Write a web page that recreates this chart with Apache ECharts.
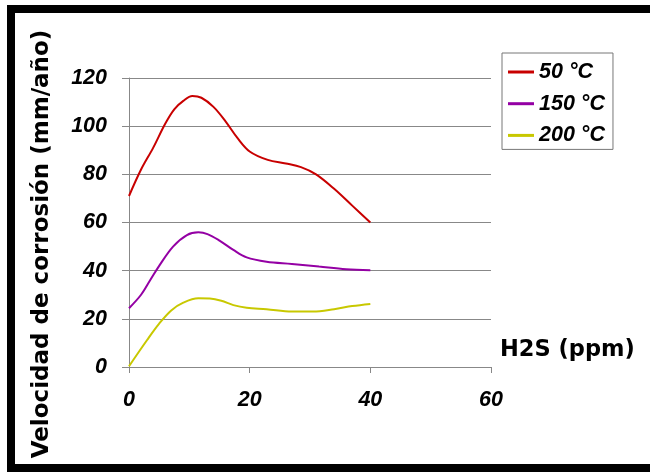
<!DOCTYPE html>
<html>
<head>
<meta charset="utf-8">
<script src="https://cdn.jsdelivr.net/npm/echarts@6/dist/echarts.min.js"></script>
<style>html,body{margin:0;padding:0;background:#fff;}#c{width:650px;height:472px;}</style>
</head>
<body>
<div id="c"></div>
<script>
const seriesNames = ['50 °C', '150 °C', '200 °C'];
const xTicks = [0, 20, 40, 60];
const yTicks = [0, 20, 40, 60, 80, 100, 120];
const xAxisTitle = 'H2S (ppm)';
const yAxisTitle = 'Velocidad de corrosión (mm/año)';

const s50 = [[0,71],[2,82],[4,91],[6,101],[7.5,107],[9,110.5],[10.5,112.5],[12,111.8],[14,108],[16,102],[18,95],[20,89.5],[23,86],[26,84.5],[28.5,83],[31,80],[34,74],[37,67],[40,60]];
const s150 = [[0,24.4],[2,30],[3.5,36],[5,42],[7.3,50],[9.6,54.8],[11.5,55.9],[13,55.2],[15,52.5],[17.3,48.6],[19.5,45.5],[22.8,43.7],[27,42.8],[31.5,41.7],[36,40.6],[40,40.2]];
const s200 = [[0,0.3],[3,11.2],[5,18],[7,23.5],[9,26.7],[11.5,28.5],[13.4,28.4],[15.3,27.5],[17.3,25.7],[19.5,24.6],[22.8,24],[27,23],[30.5,23],[34,24],[37,25.3],[40,26.2]];

const colors = ['#c80000', '#9400a4', '#c8c800'];
const tickFont = {fontFamily: 'Liberation Sans', fontWeight: 'bold', fontStyle: 'italic', fontSize: 21.5, color: '#000'};

const chart = echarts.init(document.getElementById('c'), null, {renderer: 'canvas'});
const mk = (name, data, i) => ({
  name, type: 'line', data, smooth: 0.35, symbol: 'none',
  lineStyle: {color: colors[i], width: 2}, itemStyle: {color: colors[i]}
});
chart.setOption({
  backgroundColor: '#fff',
  animation: false,
  grid: {left: 129, right: 159, top: 78, bottom: 105, containLabel: false},
  xAxis: {
    type: 'value', min: xTicks[0], max: xTicks[xTicks.length - 1], interval: 20,
    axisLine: {show: true, lineStyle: {color: '#888', width: 1}},
    axisTick: {show: true, length: 6, lineStyle: {color: '#888'}},
    axisLabel: Object.assign({margin: 22}, tickFont),
    splitLine: {show: false}
  },
  yAxis: {
    type: 'value', min: yTicks[0], max: yTicks[yTicks.length - 1], interval: 20,
    axisLine: {show: true, lineStyle: {color: '#888', width: 1}},
    axisTick: {show: true, length: 7, lineStyle: {color: '#888'}},
    axisLabel: Object.assign({margin: 22}, tickFont),
    splitLine: {show: true, lineStyle: {color: '#888', width: 1}}
  },
  legend: {
    orient: 'vertical', left: 502, top: 53,
    data: seriesNames,
    icon: 'rect', itemWidth: 26, itemHeight: 3, itemGap: 9.7,
    padding: [8, 8, 3, 6],
    borderColor: '#777', borderWidth: 1, backgroundColor: '#fff',
    textStyle: {fontFamily: 'Liberation Sans', fontWeight: 'bold', fontStyle: 'italic', fontSize: 21.5, color: '#000', lineHeight: 22, padding: [0,0,0,0]},
    itemStyle: {borderWidth: 0}
  },
  graphic: [
    {type: 'rect', shape: {x: 7, y: 5, width: 643, height: 8}, style: {fill: '#000'}},
    {type: 'rect', shape: {x: 7, y: 5, width: 8, height: 467}, style: {fill: '#000'}},
    {type: 'rect', shape: {x: 7, y: 464, width: 643, height: 8}, style: {fill: '#000'}},
    {type: 'text', x: 42, y: 244, rotation: Math.PI / 2,
      style: {text: yAxisTitle, fontFamily: 'DejaVu Sans', fontWeight: 'bold', fontSize: 23, fill: '#000', textAlign: 'center', textVerticalAlign: 'middle'}},
    {type: 'text', x: 500, y: 350,
      style: {text: xAxisTitle, fontFamily: 'DejaVu Sans', fontWeight: 'bold', fontSize: 22.5, fill: '#000', textAlign: 'left', textVerticalAlign: 'middle'}}
  ],
  series: [mk(seriesNames[0], s50, 0), mk(seriesNames[1], s150, 1), mk(seriesNames[2], s200, 2)]
});
</script>
</body>
</html>
